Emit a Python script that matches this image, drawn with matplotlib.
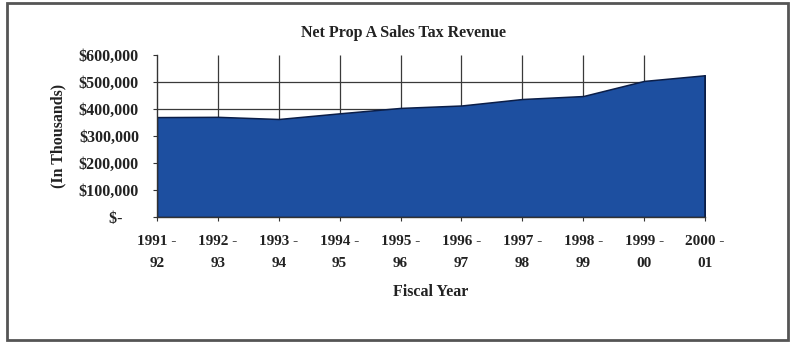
import numpy as np
import matplotlib
matplotlib.use("Agg")
from matplotlib import pyplot as plt
from matplotlib.patches import Rectangle
from matplotlib.ticker import FuncFormatter

# Fiscal years and net Prop A sales tax revenue (in thousands of dollars)
years = ["1991 -\n92", "1992 -\n93", "1993 -\n94", "1994 -\n95", "1995 -\n96",
         "1996 -\n97", "1997 -\n98", "1998 -\n99", "1999 -\n00", "2000 -\n01"]
revenue = [370000, 371000, 363000, 384000, 404000,
           413000, 437000, 448000, 504000, 525000]
y_ticks = [0, 100000, 200000, 300000, 400000, 500000, 600000]

plt.rcParams['font.family'] = ['Liberation Serif', 'DejaVu Serif']
plt.rcParams['font.weight'] = 'bold'

fig = plt.figure(figsize=(7.9, 3.43), dpi=100)
ax = fig.add_axes([157 / 790, 1 - 217 / 343, 548 / 790, 162 / 343])

x = np.arange(len(years))

# grid behind the area
ax.hlines([400000, 500000], x[0], x[-1], color='#3a3a3a', lw=0.9, zorder=1)
ax.vlines(x[1:-1], 0, 600000, color='#3a3a3a', lw=0.9, zorder=1)

ax.fill_between(x, revenue, 0, color='#1d4fa0', edgecolor='#0b1e48',
                lw=1.1, zorder=2)
ax.vlines(x[-1], 0, revenue[-1], color='#0b1e48', lw=1.1, zorder=3)

ax.set_xlim(x[0], x[-1])
ax.set_ylim(0, 600000)
ax.set_xticks(x)
ax.set_xticklabels(years, fontsize=11, fontweight='bold', linespacing=1.85)
ax.set_yticks(y_ticks)


def money(v, pos):
    if v == 0:
        return '$-    '
    return '${:,.0f}'.format(v)


ax.yaxis.set_major_formatter(FuncFormatter(money))
for lab in ax.get_yticklabels():
    lab.set_fontsize(11.5)
    lab.set_fontweight('bold')

ax.tick_params(axis='y', length=3, pad=10, color='#333333', labelcolor='#222222')
ax.tick_params(axis='x', length=3, pad=10, color='#333333', labelcolor='#222222')

for side in ['top', 'right']:
    ax.spines[side].set_visible(False)
for side in ['left', 'bottom']:
    ax.spines[side].set_color('#333333')
    ax.spines[side].set_linewidth(1.0)

ax.set_ylabel('(In Thousands)', fontsize=11.5, fontweight='bold', color='#222222')
ax.yaxis.set_label_coords(-(157 - 66) / 548, 0.5)
ax.set_xlabel('Fiscal Year', fontsize=11.5, fontweight='bold', color='#222222')
ax.xaxis.set_label_coords(0.5, -(284 - 217) / 162)

fig.text(404 / 790, 1 - 33 / 343, 'Net Prop A Sales Tax Revenue', ha='center',
         va='center', fontsize=11.5, fontweight='bold', color='#222222')

# outer frame around the chart
fig.patches.append(Rectangle((7 / 790, 3 / 343), 781 / 790, 337 / 343,
                             transform=fig.transFigure, fill=False,
                             edgecolor='#555555', lw=2))

fig.savefig('out.png', dpi=100)
